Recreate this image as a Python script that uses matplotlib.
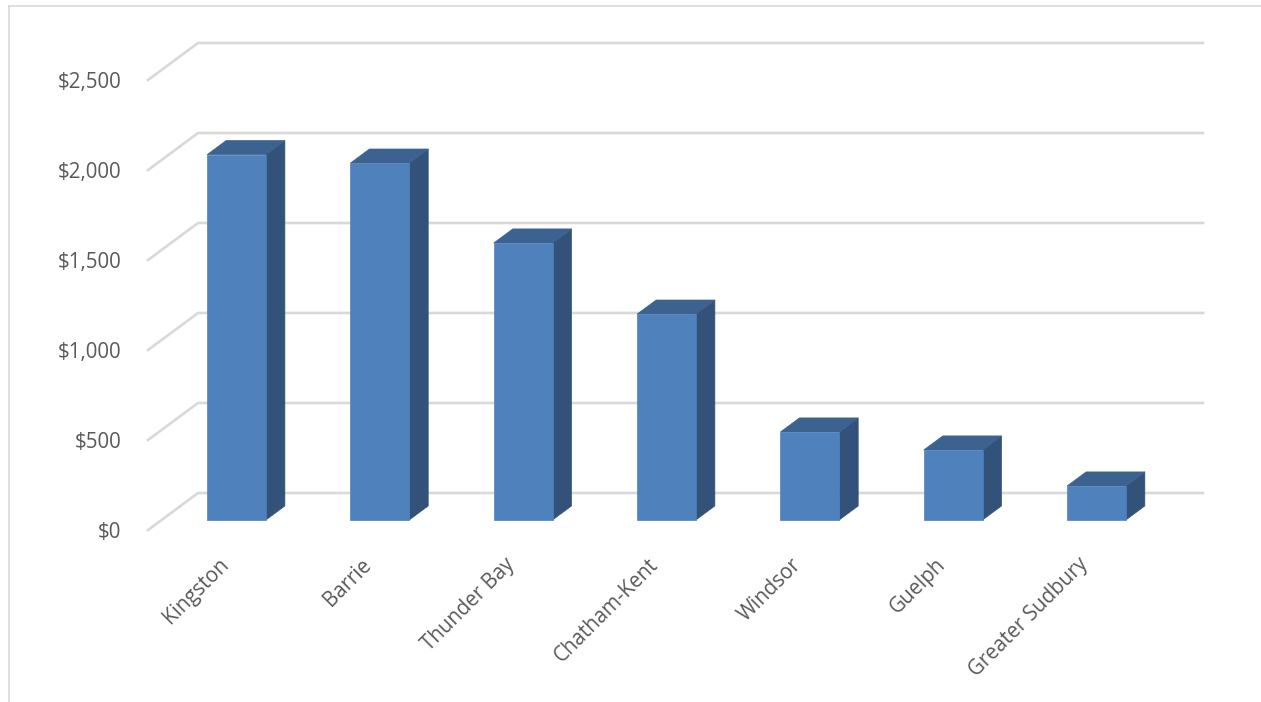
import matplotlib
matplotlib.use("Agg")
import matplotlib.pyplot as plt
from matplotlib.patches import Polygon
from matplotlib.lines import Line2D

# data
cities = ["Kingston", "Barrie", "Thunder Bay", "Chatham-Kent",
          "Windsor", "Guelph", "Greater Sudbury"]
values = [2030, 1983, 1539, 1144, 489, 389, 189]
ticks = [0, 500, 1000, 1500, 2000, 2500]
tick_labels = ["$0", "$500", "$1,000", "$1,500", "$2,000", "$2,500"]

# colours
FRONT = "#4f81bd"
SIDE = "#32527a"
TOP = "#3c638f"
GRID = "#d9d9d9"
TEXT = "#595959"

# oblique 3d look, in data units (category / dollars)
DEPTH_X = 0.349      # x shift from front to back of the floor
DEPTH_Y = 205.6      # y shift from front to back of the floor
D0 = 0.27            # depth of the bar front face
D1 = 0.65            # depth of the bar back face
BAR_W = 0.41
WALL_L, WALL_R = -0.523, 6.489


def proj(x, v, d):
    #move a point at depth d onto the bar front plane
    return x + (d - D0) * DEPTH_X, v + (d - D0) * DEPTH_Y


fig = plt.figure(figsize=(12.61, 7.02), dpi=100)
ax = fig.add_axes([0, 0, 1, 1])
ax.set_xlim(-1.650, 7.148)
ax.set_ylim(-1011.1, 2888.9)
ax.axis("off")

# gridlines: side wall diagonal + back wall
for v, lab in zip(ticks, tick_labels):
    x0, y0 = proj(WALL_L, v, 0)
    x1, y1 = proj(WALL_L, v, 1)
    x2, y2 = proj(WALL_R, v, 1)
    ax.plot([x0, x1, x2], [y0, y1, y2], color=GRID, lw=1.9,
            solid_joinstyle="miter", zorder=1)
    ax.text(x0 - 0.188, y0, lab, ha="right", va="center_baseline",
            fontsize=14.8, color=TEXT, family="Open Sans")

# bars
for i, (name, v) in enumerate(zip(cities, values)):
    xl, xr = i - BAR_W / 2, i + BAR_W / 2
    front = [proj(xl, 0, D0), proj(xr, 0, D0), proj(xr, v, D0), proj(xl, v, D0)]
    side = [proj(xr, 0, D0), proj(xr, 0, D1), proj(xr, v, D1), proj(xr, v, D0)]
    top = [proj(xl, v, D0), proj(xr, v, D0), proj(xr, v, D1), proj(xl, v, D1)]
    for pts, c in ((side, SIDE), (top, TOP), (front, FRONT)):
        ax.add_patch(Polygon(pts, closed=True, facecolor=c, edgecolor=c,
                             lw=0.5, zorder=3))
    ax.text(i - 0.13, -190, name, rotation=45, rotation_mode="anchor",
            ha="right", va="top", fontsize=14.8, color=TEXT,
            family="Open Sans")

# chart border (only left and top edges are visible)
fig.add_artist(Line2D([9 / 1261, 9 / 1261], [0, 1 - 6 / 702],
                      color=GRID, lw=1.2))
fig.add_artist(Line2D([9 / 1261, 1], [1 - 6 / 702, 1 - 6 / 702],
                      color=GRID, lw=1.2))

fig.savefig("out.png", dpi=100)
